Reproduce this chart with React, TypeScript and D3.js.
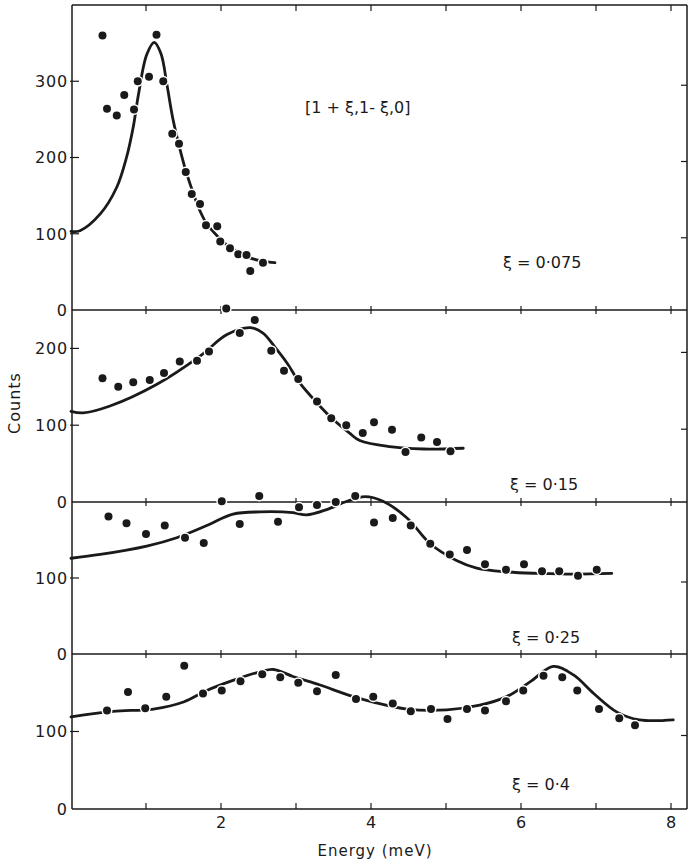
import React from "react";
import * as d3 from "d3";

// Energy (meV), counts pairs
const p1Points: [number, number][] = [
  [0.42, 360], [0.48, 264], [0.61, 255], [0.71, 282], [0.84, 263], [0.89, 300],
  [1.04, 306], [1.14, 361], [1.23, 300], [1.35, 231], [1.44, 218], [1.53, 181],
  [1.61, 152], [1.72, 139], [1.8, 111], [1.95, 110], [1.99, 90], [2.12, 81],
  [2.23, 73], [2.34, 72], [2.39, 51], [2.56, 62],
];
const p1Curve: [number, number][] = [
  [0, 103], [0.12, 104], [0.39, 126], [0.61, 161], [0.74, 200], [0.83, 240],
  [0.9, 283], [1.01, 335], [1.11, 351], [1.2, 336], [1.28, 295], [1.36, 250],
  [1.45, 212], [1.53, 183], [1.63, 153], [1.72, 130], [1.81, 113], [1.95, 97],
  [2.08, 85], [2.23, 76], [2.34, 70], [2.55, 64], [2.72, 62],
];

const p2Points: [number, number][] = [
  [0.42, 161], [0.63, 150], [0.83, 156], [1.05, 159], [1.24, 168], [1.45, 183],
  [1.68, 184], [1.84, 196], [2.07, 252], [2.25, 220], [2.45, 237], [2.67, 197],
  [2.84, 171], [3.03, 160], [3.28, 131], [3.47, 109], [3.67, 100], [3.89, 90],
  [4.04, 104], [4.28, 94], [4.46, 65], [4.67, 84], [4.88, 78], [5.06, 66],
];
const p2Curve: [number, number][] = [
  [0, 118], [0.16, 116], [0.52, 125], [1.14, 153], [1.72, 190], [2.08, 218],
  [2.39, 227], [2.56, 220], [2.74, 199], [2.88, 181], [3.05, 155], [3.28, 129],
  [3.5, 107], [3.71, 90], [3.85, 80], [4.25, 72], [4.7, 69], [5.23, 70],
];

const p3Points: [number, number][] = [
  [0.5, 181], [0.74, 172], [1.0, 158], [1.25, 169], [1.52, 153], [1.77, 146],
  [2.01, 201], [2.25, 171], [2.51, 208], [2.76, 174], [3.04, 193], [3.28, 196],
  [3.53, 200], [3.79, 208], [4.04, 173], [4.29, 179], [4.53, 169], [4.79, 145],
  [5.05, 131], [5.28, 137], [5.52, 118], [5.8, 111], [6.04, 118], [6.28, 109],
  [6.51, 109], [6.76, 103], [7.01, 111],
];
const p3Curve: [number, number][] = [
  [0, 126], [0.39, 131], [1.01, 142], [1.41, 153], [1.81, 169], [2.16, 184],
  [2.52, 187], [2.96, 186], [3.14, 183], [3.41, 190], [3.68, 201], [3.92, 207],
  [4.16, 201], [4.48, 179], [4.79, 145], [5.14, 123], [5.41, 113], [5.81, 108],
  [6.25, 106], [6.7, 105], [7.21, 106],
];

const p4Points: [number, number][] = [
  [0.48, 127], [0.76, 151], [0.99, 130], [1.27, 145], [1.51, 185], [1.76, 149],
  [2.01, 153], [2.26, 165], [2.55, 174], [2.79, 170], [3.03, 163], [3.28, 152],
  [3.53, 173], [3.8, 142], [4.03, 145], [4.29, 136], [4.53, 126], [4.8, 129],
  [5.02, 116], [5.28, 129], [5.52, 127], [5.8, 139], [6.03, 153], [6.3, 172],
  [6.55, 170], [6.75, 153], [7.04, 129], [7.31, 117], [7.52, 108],
];
const p4Curve: [number, number][] = [
  [0, 119], [0.56, 126], [1.1, 129], [1.5, 138], [1.81, 153], [2.16, 166],
  [2.52, 177], [2.7, 180], [2.96, 171], [3.32, 160], [3.7, 147], [4.03, 138],
  [4.48, 129], [5.01, 128], [5.45, 134], [5.81, 145], [6.12, 164], [6.43, 184],
  [6.7, 173], [6.97, 149], [7.28, 125], [7.58, 115], [8.03, 115],
];

const panelLabels = ["ξ = 0·075", "ξ = 0·15", "ξ = 0·25", "ξ = 0·4"];
const panelMax = [400, 250, 200, 200];
const panelTicks = [[100, 200, 300], [100, 200], [100], [100]];
const energyTickLabels = [2, 4, 6, 8];
const energyMinorTicks = [1, 2, 3, 4, 5, 6, 7, 8];
const directionLabel = "[1 + ξ,1- ξ,0]";

const panelPoints = [p1Points, p2Points, p3Points, p4Points];
const panelCurves = [p1Curve, p2Curve, p3Curve, p4Curve];

export default function App() {
  const W = 689;
  const H = 864;
  const left = 72;
  const right = 687;
  const bounds = [5, 310, 502, 654, 809];
  const x = d3.scaleLinear().domain([0, 8]).range([71, 671]);
  const font = "DejaVu Sans, sans-serif";
  const ink = "#1a1a1a";
  const labelPos = [
    { x: 503, y: 268 },
    { x: 510, y: 490 },
    { x: 512, y: 643 },
    { x: 512, y: 790 },
  ];

  const panels = panelMax.map((m, i) =>
    d3.scaleLinear().domain([0, m]).range([bounds[i + 1], bounds[i]])
  );

  return (
    <svg
      width={W}
      height={H}
      style={{ position: "absolute", left: 0, top: 0, background: "#fff" }}
      fontFamily={font}
    >
      <rect x={0} y={0} width={W} height={H} fill="#fff" />
      {/* frame */}
      <line x1={left} y1={bounds[0]} x2={left} y2={bounds[4]} stroke={ink} strokeWidth={1.5} />
      <line x1={right} y1={bounds[0]} x2={right} y2={bounds[4]} stroke={ink} strokeWidth={1.5} />
      {bounds.map((b, i) => (
        <line key={"b" + i} x1={left} y1={b} x2={right} y2={b} stroke={ink} strokeWidth={1.5} />
      ))}
      {/* energy ticks on each horizontal line */}
      {bounds.map((b, i) =>
        energyMinorTicks.map((e) => {
          const y1 = i === 0 ? b : i === 4 ? b - 6 : b - 4;
          const y2 = i === 0 ? b + 6 : i === 4 ? b : b + 4;
          return (
            <line key={"t" + i + "-" + e} x1={x(e)} x2={x(e)} y1={y1} y2={y2} stroke={ink} strokeWidth={1.2} />
          );
        })
      )}
      {/* zero labels */}
      {bounds.slice(1).map((b, i) => (
        <text key={"z" + i} x={67} y={b} dy="0.36em" textAnchor="end" fontSize={16} fill={ink}>
          0
        </text>
      ))}
      {/* panel y ticks */}
      {panels.map((y, i) =>
        panelTicks[i].map((t) => (
          <g key={"y" + i + "-" + t}>
            <line x1={left - 2} x2={left + 7} y1={y(t)} y2={y(t)} stroke={ink} strokeWidth={1.2} />
            <line x1={right - 6} x2={right} y1={y(t) + 4} y2={y(t) + 4} stroke={ink} strokeWidth={1.2} />
            <text x={68} y={y(t)} dy="0.36em" textAnchor="end" fontSize={16} letterSpacing={0.8} fill={ink}>
              {t}
            </text>
          </g>
        ))
      )}
      {/* curves and points */}
      {panels.map((y, i) => {
        const line = d3
          .line<[number, number]>()
          .x((d) => x(d[0]))
          .y((d) => y(d[1]))
          .curve(d3.curveCatmullRom.alpha(0.5));
        return (
          <g key={"p" + i}>
            <path d={line(panelCurves[i]) || ""} fill="none" stroke={ink} strokeWidth={2.8} strokeLinecap="round" />
            {panelPoints[i].map((d, j) => (
              <circle key={j} cx={x(d[0])} cy={y(d[1])} r={4} fill={ink} stroke="#fff" strokeWidth={3} paintOrder="stroke" />
            ))}
            <text x={labelPos[i].x} y={labelPos[i].y} fontSize={16} fill={ink}>
              {panelLabels[i]}
            </text>
          </g>
        );
      })}
      <text x={305} y={113} fontSize={16} fill={ink}>
        {directionLabel}
      </text>
      {/* bottom axis labels */}
      {energyTickLabels.map((e) => (
        <text key={"xl" + e} x={x(e)} y={828} textAnchor="middle" fontSize={16} fill={ink}>
          {e}
        </text>
      ))}
      <text x={375} y={856} textAnchor="middle" fontSize={15} letterSpacing={1} fill={ink}>
        Energy (meV)
      </text>
      <text
        transform="translate(20,403) rotate(-90)"
        textAnchor="middle"
        fontSize={16}
        letterSpacing={1}
        fill={ink}
      >
        Counts
      </text>
    </svg>
  );
}
